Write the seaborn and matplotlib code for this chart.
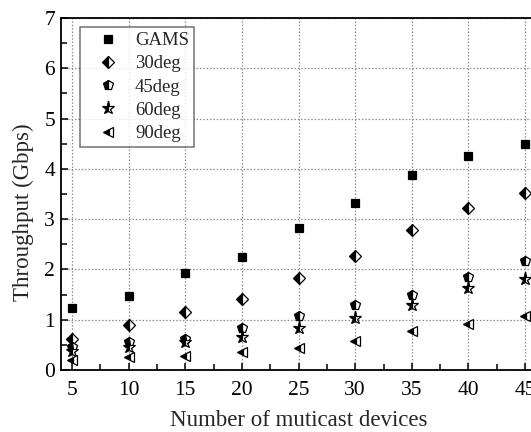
import matplotlib
matplotlib.use("Agg")
import matplotlib.pyplot as plt
from matplotlib.ticker import MultipleLocator
import seaborn as sns
import pandas as pd

devices = [5, 10, 15, 20, 25, 30, 35, 40, 45]
gams = [1.23, 1.47, 1.92, 2.24, 2.83, 3.33, 3.88, 4.25, 4.50]
deg30 = [0.62, 0.89, 1.15, 1.42, 1.82, 2.26, 2.78, 3.23, 3.52]
deg45 = [0.46, 0.56, 0.62, 0.83, 1.07, 1.29, 1.49, 1.84, 2.16]
deg60 = [0.38, 0.46, 0.55, 0.65, 0.84, 1.04, 1.29, 1.63, 1.81]
deg90 = [0.20, 0.25, 0.28, 0.36, 0.43, 0.58, 0.78, 0.91, 1.08]

series = ["GAMS", "30deg", "45deg", "60deg", "90deg"]
values = [gams, deg30, deg45, deg60, deg90]

df = pd.DataFrame({
    "devices": devices * len(series),
    "throughput": [v for vals in values for v in vals],
    "scheme": [s for s in series for _ in devices],
})

sns.set_theme(style="ticks")
plt.rcParams["font.family"] = ["Liberation Serif", "DejaVu Serif"]

fig = plt.figure(figsize=(5.31, 4.32), dpi=100)
# plot area runs a little past the right border of the canvas
ax = fig.add_axes([60.5 / 531, 62 / 432, 476 / 531, 352 / 432])

styles = {
    "GAMS": dict(marker="s", fillstyle="full", ms=6.3),
    "30deg": dict(marker="D", fillstyle="left", ms=6.1),
    "45deg": dict(marker="p", fillstyle="left", ms=7.8),
    "60deg": dict(marker="*", fillstyle="left", ms=9.5),
    "90deg": dict(marker="<", fillstyle="left", ms=7.6),
}

for name in series:
    sub = df[df["scheme"] == name]
    st = styles[name]
    sns.lineplot(
        data=sub, x="devices", y="throughput", ax=ax, label=name,
        linestyle="none", marker=st["marker"], markersize=st["ms"],
        fillstyle=st["fillstyle"], color="black", markeredgecolor="black",
        markerfacecolor="black", markerfacecoloralt="white",
        markeredgewidth=0.9,
    )

ax.set_xlim(4, 46)
ax.set_ylim(0, 7)
ax.set_xticks(devices)
ax.xaxis.set_minor_locator(MultipleLocator(2.5))
ax.yaxis.set_major_locator(MultipleLocator(1))
ax.yaxis.set_minor_locator(MultipleLocator(0.5))
ax.tick_params(which="both", direction="in", top=False, right=False,
               labelsize=15.5, width=1.1, colors="black")
ax.tick_params(which="major", length=5)
ax.tick_params(which="minor", length=4)
ax.tick_params(axis="x", pad=8)
ax.tick_params(axis="y", pad=4)
ax.grid(True, which="major", linestyle=(0, (1.2, 1.5)), color="#8c8c8c",
        linewidth=0.9)
for sp in ax.spines.values():
    sp.set_color("black")
    sp.set_linewidth(1.3)

ax.set_xlabel("Number of muticast devices", fontsize=16.5, labelpad=7)
ax.set_ylabel("Throughput (Gbps)", fontsize=16.5)
ax.yaxis.set_label_coords(-0.056, 0.449)

leg = ax.legend(loc="upper left", bbox_to_anchor=(0.041, 0.9736),
                fontsize=13.5, frameon=True, fancybox=False,
                edgecolor="#505050", handletextpad=0.23, borderpad=0.25,
                labelspacing=0.33, handlelength=2.45, borderaxespad=0)
leg.get_frame().set_linewidth(1.1)

fig.savefig("out.png", dpi=100)
